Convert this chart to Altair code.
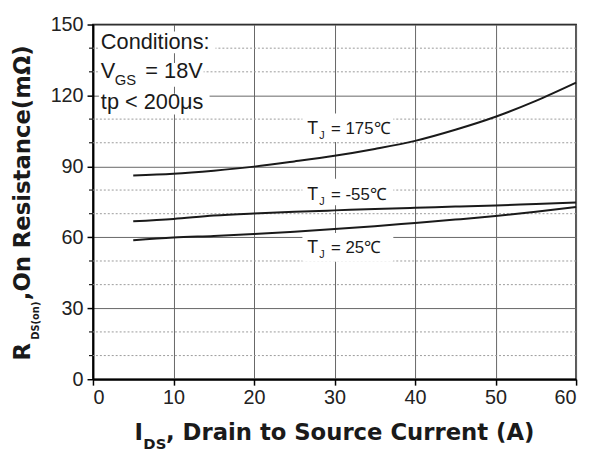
import altair as alt
import pandas as pd

# ---- data ----
current = [5, 10, 15, 20, 25, 30, 35, 40, 45, 50, 55, 60]
r_175 = [86.2, 86.9, 88.2, 89.9, 92.1, 94.5, 97.4, 100.8, 105.5, 111.0, 117.7, 125.4]
r_m55 = [66.8, 67.8, 69.2, 70.1, 70.8, 71.4, 72.0, 72.5, 73.0, 73.5, 74.1, 74.7]
r_25 = [58.8, 59.9, 60.6, 61.4, 62.4, 63.5, 64.7, 66.1, 67.5, 69.0, 70.8, 72.8]
series_names = ["175", "-55", "25"]
series_eq = ["= 175\u2103", "= -55\u2103", "= 25\u2103"]
x_ticks = [0, 10, 20, 30, 40, 50, 60]
y_ticks = [0, 30, 60, 90, 120, 150]
y_minor = [10, 20, 40, 50, 70, 80, 100, 110, 130, 140]

FONT = "Liberation Sans"
TFONT = "DejaVu Sans"
INK = "#1a1a1a"

rows = []
for name, vals in zip(series_names, [r_175, r_m55, r_25]):
    for xv, yv in zip(current, vals):
        rows.append({"series": name, "I": xv, "R": yv})
curves = pd.DataFrame(rows)
minor = pd.DataFrame({"v": y_minor})
one = pd.DataFrame({"k": [0]})

xscale = alt.Scale(domain=[0, 60], nice=False, zero=False)
yscale = alt.Scale(domain=[0, 150], nice=False, zero=False)
xaxis = alt.Axis(values=x_ticks, title=None, grid=True, format="d")
yaxis = alt.Axis(values=y_ticks, title=None, grid=True, format="d")

minor_grid = alt.Chart(minor).mark_rule(color="#9a9a9a", strokeDash=[2, 2], strokeWidth=1).encode(
    y=alt.Y("v:Q", scale=yscale, axis=yaxis)
)
minor_ticks = alt.Chart(minor).mark_rule(color=INK, strokeWidth=1.2).encode(
    y=alt.Y("v:Q", scale=yscale, axis=yaxis), x=alt.value(-4), x2=alt.value(0)
)


def box(x1, x2, y1, y2):
    return alt.Chart(one).mark_rect(color="white").encode(
        x=alt.value(x1), x2=alt.value(x2), y=alt.value(y1), y2=alt.value(y2)
    )


def txt(s, x, y, size, weight="normal", angle=0, font=FONT):
    return alt.Chart(one).mark_text(
        text=s, font=font, fontSize=size, fontWeight=weight, color=INK,
        align="left", baseline="alphabetic", angle=angle
    ).encode(x=alt.value(x), y=alt.value(y))


boxes = [
    box(212, 304, 90, 119), box(212, 304, 156, 183), box(212, 304, 211, 240),
    box(6, 124, 7, 29), box(6, 112, 39, 63), box(6, 118, 70, 91),
]

lines = alt.Chart(curves).mark_line(color=INK, strokeWidth=2, interpolate="monotone").encode(
    x=alt.X("I:Q", scale=xscale, axis=xaxis),
    y=alt.Y("R:Q", scale=yscale, axis=yaxis),
    detail="series:N",
)

label_y = [111, 178, 231]
labels = []
for eq, by in zip(series_eq, label_y):
    labels.append(txt("T", 217, by, 18))
    labels.append(txt("J", 229, by + 5, 11))
    labels.append(txt(eq, 241, by, 17))

cond = [
    txt("Conditions:", 8, 25, 22),
    txt("V", 8, 54, 22),
    txt("GS", 22, 61, 15),
    txt("= 18V", 53, 54, 22),
    txt("tp < 200\u03bcs", 8, 85, 22),
]

titles = [
    txt("I", 42, 421, 23, "bold", font=TFONT),
    txt("DS", 51, 430, 15, "bold", font=TFONT),
    txt(", Drain to Source Current  (A)", 74, 421, 23, "bold", font=TFONT),
    txt("R", -64, 340, 23, "bold", 270, font=TFONT),
    txt("DS(on)", -55, 319, 10, "bold", 270, font=TFONT),
    txt(",On Resistance(m\u03a9)", -64, 279, 23, "bold", 270, font=TFONT),
]

chart = alt.layer(
    minor_grid, *boxes, lines, minor_ticks, *labels, *cond, *titles
).properties(
    width=489, height=359,
    autosize=alt.AutoSizeParams(type="none"),
    padding={"left": 86, "top": 14, "right": 8, "bottom": 76},
).configure_view(
    stroke="black", strokeWidth=1.5
).configure_axis(
    labelFont=FONT, labelFontSize=20, labelColor="#222222",
    domainColor="black", domainWidth=2,
    tickColor="black", tickSize=6, tickWidth=1.5,
    gridColor="#666666", gridWidth=1,
).configure_axisX(labelPadding=3).configure_axisY(labelPadding=4)

chart.save("out.html", embed_options={"renderer": "svg", "actions": False})
